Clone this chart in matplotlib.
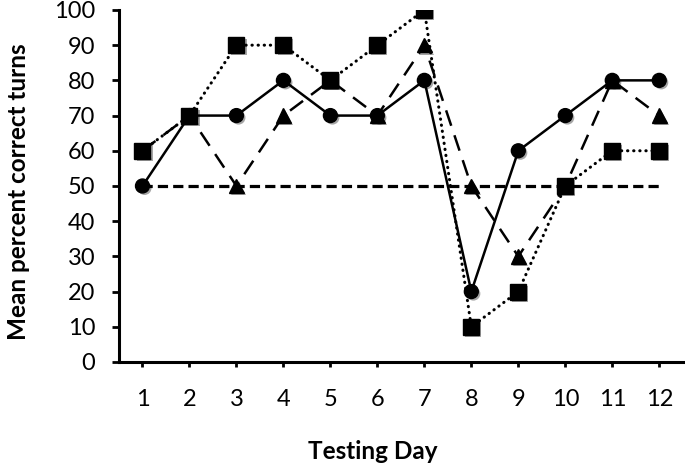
import matplotlib.pyplot as plt
import matplotlib.patheffects as pe

# values
days = list(range(1, 13))
circles = [50, 70, 70, 80, 70, 70, 80, 20, 60, 70, 80, 80]
triangles = [60, 70, 50, 70, 80, 70, 90, 50, 30, 50, 80, 70]
squares = [60, 70, 90, 90, 80, 90, 100, 10, 20, 50, 60, 60]
chance = [50] * len(days)
yticks = list(range(0, 101, 10))

plt.rcParams['font.family'] = ['Lato', 'DejaVu Sans']

fig = plt.figure(figsize=(6.85, 4.70), dpi=100)
ax = fig.add_axes([0.1737, 0.2298, 0.823, 0.749])

shadow = [pe.SimplePatchShadow(offset=(1.5, -1.5), alpha=0.35), pe.Normal()]

ax.plot(days, chance, color='black', lw=2.3, dashes=(3.2, 1.6), zorder=2)

# lines first, markers on top with a soft drop shadow
ax.plot(days, triangles, color='black', lw=1.8, dashes=(6.5, 4), zorder=3)
ax.plot(days, circles, color='black', lw=1.8, zorder=3)
ax.plot(days, squares, color='black', lw=2.2, linestyle=(0, (0.1, 1.9)),
        dash_capstyle='round', zorder=3)

ax.plot(days, triangles, ls='none', marker='^', color='black', markersize=10.5,
        zorder=4, path_effects=shadow)
ax.plot(days, circles, ls='none', marker='o', color='black', markersize=10,
        zorder=5, path_effects=shadow)
ax.plot(days, squares, ls='none', marker='s', color='black', markersize=11.5,
        zorder=6, path_effects=shadow)

ax.set_xlim(0.5, 12.5)
ax.set_ylim(0, 100)
ax.set_xticks(days)
ax.set_yticks(yticks)
ax.tick_params(axis='both', labelsize=17, width=2, direction='out')
ax.tick_params(axis='x', length=3.6, pad=16)
ax.tick_params(axis='y', length=5, pad=12)

for side in ['top', 'right']:
    ax.spines[side].set_visible(False)
for side in ['left', 'bottom']:
    ax.spines[side].set_linewidth(2.2)

ax.set_ylabel('Mean percent correct turns', fontsize=17.5, fontweight='bold',
              va='center')
ax.yaxis.set_label_coords(-0.179, 0.483)
ax.set_xlabel('Testing Day', fontsize=17.5, fontweight='bold')
ax.xaxis.set_label_coords(0.45, -0.222)

fig.savefig('out.png', dpi=100)
